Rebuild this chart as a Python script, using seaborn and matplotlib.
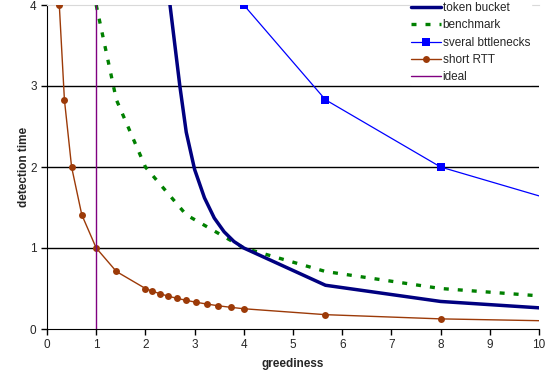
import matplotlib
matplotlib.use("Agg")
import matplotlib.pyplot as plt
import seaborn as sns

# ------------------------------------------------------------------
# data
token_x = [2.5, 2.6, 2.7, 2.83, 3.0, 3.2, 3.4, 3.6, 3.8, 4.0, 5.66, 8.0, 11.31]
token_y = [4.0, 3.5, 3.0, 2.43, 1.97, 1.62, 1.37, 1.2, 1.08, 1.0, 0.54, 0.34, 0.21]

bench_x = [1.0, 1.41, 2.0, 2.83, 4.0, 5.66, 8.0, 11.31]
bench_y = [4.0, 2.83, 2.0, 1.41, 1.0, 0.71, 0.5, 0.35]

several_x = [4.0, 5.66, 8.0, 11.31]
several_y = [4.0, 2.83, 2.0, 1.41]

rtt_x = [0.25, 0.354, 0.5, 0.707, 1.0, 1.41, 2.0, 2.14, 2.30, 2.46, 2.64, 2.83,
         3.03, 3.25, 3.48, 3.73, 4.0, 5.66, 8.0, 11.31]
rtt_y = [4.0, 2.83, 2.0, 1.41, 1.0, 0.71, 0.5, 0.467, 0.435, 0.406, 0.379, 0.354,
         0.330, 0.308, 0.287, 0.268, 0.25, 0.177, 0.125, 0.088]

ideal_x = [1.0, 1.0]
ideal_y = [0.0, 4.0]

x_ticks = [0, 1, 2, 3, 4, 5, 6, 7, 8, 9, 10]
y_ticks = [0, 1, 2, 3, 4]

# ------------------------------------------------------------------
sns.set_style("ticks")
plt.rcParams['font.family'] = ['Liberation Sans', 'DejaVu Sans']

fig = plt.figure(figsize=(5.46, 3.79), dpi=100)
ax = fig.add_axes([47 / 546, 50 / 379, 492 / 546, 324 / 379])

# horizontal gridlines like the spreadsheet original
for y in y_ticks[1:-1]:
    ax.axhline(y, color="black", lw=1, zorder=1)

sns.lineplot(x=token_x, y=token_y, ax=ax, sort=False, estimator=None,
             color="#000080", lw=2.5, label="token bucket", zorder=4)
sns.lineplot(x=bench_x, y=bench_y, ax=ax, sort=False, estimator=None,
             color="#008000", lw=2.4, dashes=False, label="benchmark", zorder=3)
ax.lines[-1].set_dashes([1.5, 2.7])
sns.lineplot(x=several_x, y=several_y, ax=ax, sort=False, estimator=None,
             color="#0000ff", lw=0.9, marker="s", markersize=5.5,
             markeredgewidth=0, label="sveral bttlenecks", zorder=3)
sns.lineplot(x=rtt_x, y=rtt_y, ax=ax, sort=False, estimator=None,
             color="#9c3a08", lw=1.0, marker="o", markersize=5,
             markeredgewidth=0, label="short RTT", zorder=3)
sns.lineplot(x=ideal_x, y=ideal_y, ax=ax, sort=False, estimator=None,
             color="#800080", lw=1.0, label="ideal", zorder=3)

ax.set_xlim(0, 10)
ax.set_ylim(0, 4)
ax.set_xticks(x_ticks)
ax.set_yticks(y_ticks)
ax.tick_params(labelsize=8.5, length=4, width=1, color="black", direction="out")

ax.spines["right"].set_visible(False)
ax.spines["top"].set_color("#d9d9d9")
ax.spines["left"].set_color("black")
ax.spines["bottom"].set_color("black")

ax.set_xlabel("greediness", fontsize=8.5, fontweight="bold", labelpad=5)
ax.set_ylabel("detection time", fontsize=8.5, fontweight="bold", labelpad=0)

leg = ax.legend(loc="upper right", bbox_to_anchor=(0.995, 1.03), fontsize=8.5,
                frameon=True, framealpha=1, edgecolor="white", fancybox=False,
                handlelength=2.5, handletextpad=0.15, borderpad=0.05,
                labelspacing=0.46)
leg.set_zorder(10)

fig.savefig("out.png", dpi=100)
